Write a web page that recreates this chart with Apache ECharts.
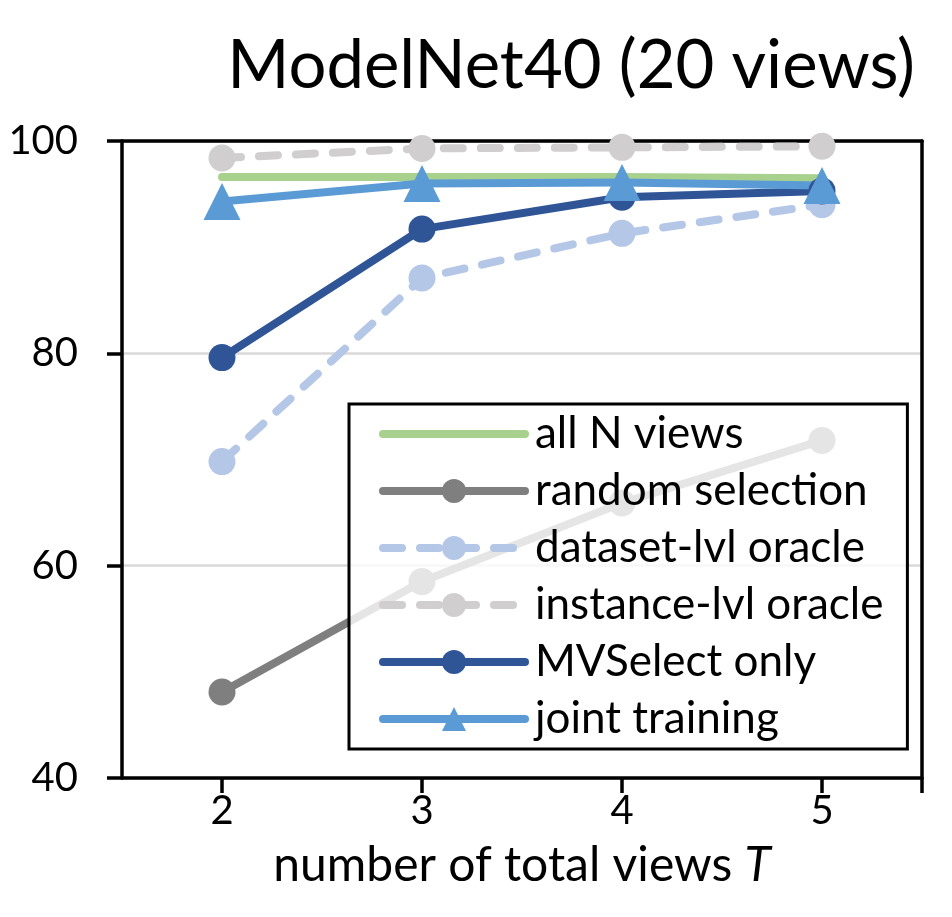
<!DOCTYPE html>
<html>
<head>
<meta charset="utf-8">
<script src="https://cdn.jsdelivr.net/npm/echarts@6/dist/echarts.min.js"></script>
<style>html,body{margin:0;padding:0;background:#fff}#c{width:952px;height:917px}</style>
</head>
<body>
<div id="c"></div>
<script>
const views = [2, 3, 4, 5];
const xTicks = [2, 3, 4, 5, 5.5];
const yTicks = [40, 60, 80, 100];
const allN = [96.6, 96.6, 96.6, 96.5];
const randomSel = [48.1, 58.5, 65.9, 71.8];
const datasetOracle = [69.8, 87.1, 91.3, 94.0];
const instanceOracle = [98.4, 99.3, 99.4, 99.5];
const mvSelect = [79.6, 91.7, 94.7, 95.3];
const jointTrain = [94.3, 96.0, 96.1, 95.8];
const names = ['all N views', 'random selection', 'dataset-lvl oracle', 'instance-lvl oracle', 'MVSelect only', 'joint training'];

const FONT = 'Lato';
const pair = arr => views.map((v, i) => [v, arr[i]]);
const DASH = [19, 18];
const AXW = 3.5;
const frameLine = { show: true, lineStyle: { color: '#000', width: AXW } };

function line(name, data, color, opts) {
  return Object.assign({
    name: name,
    type: 'line',
    data: pair(data),
    symbol: 'circle',
    symbolSize: 27,
    showSymbol: true,
    animation: false,
    z: 5,
    lineStyle: { color: color, width: 8, cap: 'round', join: 'round' },
    itemStyle: { color: color, borderWidth: 0 },
    emphasis: { disabled: true }
  }, opts || {});
}

const chart = echarts.init(document.getElementById('c'), null, { renderer: 'canvas' });
chart.setOption({
  backgroundColor: '#fff',
  animation: false,
  title: {
    text: 'ModelNet40 (20 views)',
    right: 32,
    top: 28,
    textStyle: { fontFamily: FONT, fontSize: 67, fontWeight: 'normal', color: '#000' }
  },
  grid: { left: 122, right: 30, top: 141, bottom: 139 },
  legend: {
    orient: 'vertical',
    left: 349,
    top: 404,
    z: 10,
    data: names.map((n, i) => i === 0 ? { name: n, itemStyle: { opacity: 0 } } : { name: n }),
    itemWidth: 142,
    itemHeight: 30,
    itemGap: 13,
    padding: [8, 24, 8, 30],
    borderColor: '#000',
    borderWidth: 3,
    backgroundColor: 'rgba(255,255,255,0.8)',
    lineStyle: { width: 8 },
    textStyle: { fontFamily: FONT, fontSize: 44, color: '#000', padding: [0, 0, 0, 5] },
    selectedMode: false
  },
  xAxis: [{
    type: 'value',
    min: 1.5,
    max: 5.5,
    z: 3,
    axisLine: frameLine,
    axisTick: { show: true, customValues: xTicks, length: 15, inside: false, lineStyle: { color: '#000', width: AXW } },
    axisLabel: { customValues: views, fontFamily: FONT, fontSize: 40, color: '#000', margin: 13 },
    splitLine: { show: false },
    name: 'number of total views {i|T}',
    nameLocation: 'middle',
    nameGap: 64,
    nameTextStyle: {
      fontFamily: FONT, fontSize: 48, color: '#000',
      rich: { i: { fontFamily: FONT, fontSize: 48, fontStyle: 'italic', color: '#000' } }
    }
  }, {
    type: 'value',
    position: 'top',
    min: 1.5,
    max: 5.5,
    z: 3,
    axisLine: frameLine,
    axisTick: { show: false },
    axisLabel: { show: false },
    splitLine: { show: false }
  }],
  yAxis: [{
    type: 'value',
    min: 40,
    max: 100,
    interval: 20,
    z: 1,
    axisLine: frameLine,
    axisTick: { show: true, length: 15, inside: false, lineStyle: { color: '#000', width: AXW } },
    axisLabel: { fontFamily: FONT, fontSize: 40, color: '#000', margin: 44 },
    splitLine: { show: true, lineStyle: { color: '#d9d9d9', width: 2.5 } }
  }, {
    type: 'value',
    position: 'right',
    min: 40,
    max: 100,
    interval: 20,
    z: 3,
    axisLine: frameLine,
    axisTick: { show: false },
    axisLabel: { show: false },
    splitLine: { show: false }
  }],
  series: [
    line(names[0], allN, '#a9d18e', { symbol: 'none' }),
    line(names[1], randomSel, '#7f7f7f'),
    line(names[2], datasetOracle, '#b4c7e7', { lineStyle: { color: '#b4c7e7', width: 8, type: DASH, cap: 'round', join: 'round' } }),
    line(names[3], instanceOracle, '#d0cece', { lineStyle: { color: '#d0cece', width: 8, type: DASH, cap: 'round', join: 'round' } }),
    line(names[4], mvSelect, '#2f5597'),
    line(names[5], jointTrain, '#5b9bd5', { symbol: 'triangle', symbolSize: 37 })
  ]
});
</script>
</body>
</html>
